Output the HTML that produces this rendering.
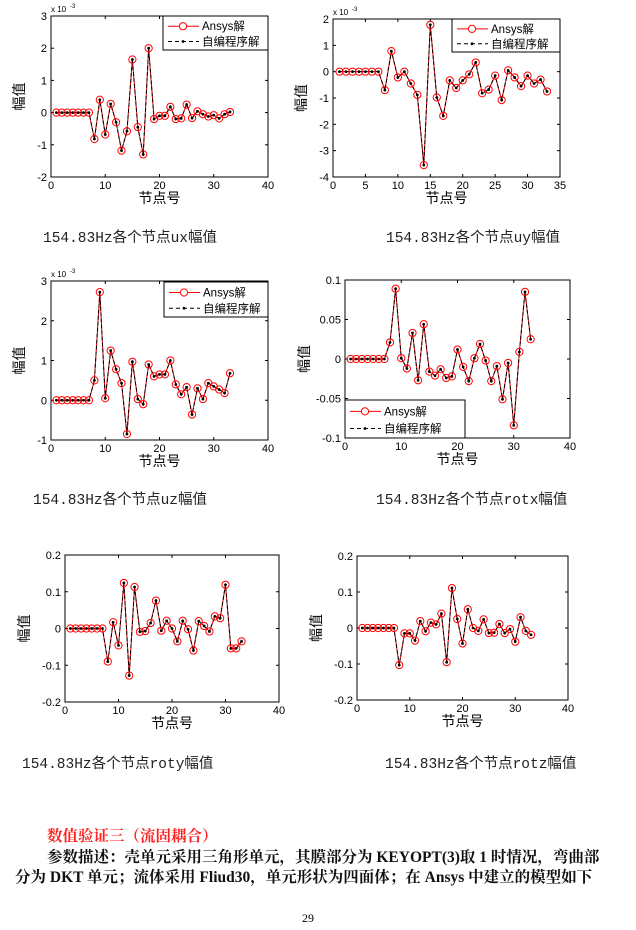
<!DOCTYPE html>
<html><head><meta charset="utf-8">
<style>
body{margin:0;background:#fff;width:636px;height:930px;position:relative;overflow:hidden;font-family:"Liberation Serif","Noto Serif CJK SC",serif}
svg{position:absolute;left:0;top:0}
.cap{position:absolute;font-family:"Liberation Mono","Noto Sans CJK SC",monospace;font-size:14.5px;color:#222;white-space:nowrap}
.t{position:absolute;font-size:15.5px;font-weight:bold;white-space:nowrap;color:#111}
</style></head><body>
<svg id="s" width="636" height="930" xmlns="http://www.w3.org/2000/svg"></svg>
<div class="cap" style="left:43px;top:226px">154.83Hz各个节点ux幅值</div>
<div class="cap" style="left:386px;top:226px">154.83Hz各个节点uy幅值</div>
<div class="cap" style="left:33px;top:488px">154.83Hz各个节点uz幅值</div>
<div class="cap" style="left:376px;top:488px">154.83Hz各个节点rotx幅值</div>
<div class="cap" style="left:22px;top:752px">154.83Hz各个节点roty幅值</div>
<div class="cap" style="left:385px;top:752px">154.83Hz各个节点rotz幅值</div>
<div class="t" style="left:47px;top:824px;color:#f22">数值验证三（流固耦合）</div>
<div class="t" style="left:47px;top:845px">参数描述：壳单元采用三角形单元，其膜部分为 KEYOPT(3)取 1 时情况，弯曲部</div>
<div class="t" style="left:15px;top:865px">分为 DKT 单元；流体采用 Fliud30，单元形状为四面体；在 Ansys 中建立的模型如下</div>
<div style="position:absolute;left:302px;top:911px;font-size:12px;font-family:'Liberation Serif',serif">29</div>
<script>
const Z=[0,0,0,0,0,0,0];
const charts=[
{x0:51,x1:268,y0:16,y1:177,xm:40,xt:[0,10,20,30,40],ymin:-2,ymax:3,yt:[-2,-1,0,1,2,3],exp:1,leg:[163,16,268,50],
d:Z.concat([-0.82,0.4,-0.68,0.27,-0.3,-1.18,-0.58,1.65,-0.45,-1.3,2.0,-0.2,-0.1,-0.1,0.18,-0.2,-0.18,0.25,-0.17,0.04,-0.05,-0.12,-0.08,-0.18,-0.05,0.02])},
{x0:333,x1:560,y0:19,y1:177,xm:35,xt:[0,5,10,15,20,25,30,35],ymin:-4,ymax:2,yt:[-4,-3,-2,-1,0,1,2],exp:1,leg:[452,19,560,52],
d:Z.concat([-0.7,0.78,-0.22,0,-0.45,-0.88,-3.55,1.78,-0.98,-1.68,-0.33,-0.62,-0.33,-0.1,0.35,-0.82,-0.68,-0.15,-1.08,0.05,-0.22,-0.55,-0.15,-0.45,-0.3,-0.75])},
{x0:51,x1:268,y0:281,y1:440,xm:40,xt:[0,10,20,30,40],ymin:-1,ymax:3,yt:[-1,0,1,2,3],exp:1,leg:[164,282,268,317],
d:Z.concat([0.5,2.72,0.05,1.25,0.78,0.43,-0.85,0.97,0.03,-0.1,0.9,0.6,0.65,0.65,1.0,0.4,0.15,0.33,-0.36,0.3,0.03,0.43,0.35,0.27,0.18,0.68])},
{x0:345,x1:570,y0:280,y1:438,xm:40,xt:[0,10,20,30,40],ymin:-0.1,ymax:0.1,yt:[-0.1,-0.05,0,0.05,0.1],leg:[345,400,465,438],
d:Z.concat([0.021,0.089,0.001,-0.012,0.033,-0.027,0.044,-0.016,-0.021,-0.013,-0.024,-0.022,0.012,-0.01,-0.028,0.001,0.019,-0.002,-0.028,-0.009,-0.051,-0.005,-0.084,0.009,0.085,0.025])},
{x0:65,x1:279,y0:555,y1:702,xm:40,xt:[0,10,20,30,40],ymin:-0.2,ymax:0.2,yt:[-0.2,-0.1,0,0.1,0.2],
d:Z.concat([-0.09,0.017,-0.046,0.124,-0.128,0.113,-0.009,-0.007,0.015,0.076,-0.006,0.021,0,-0.035,0.021,-0.002,-0.06,0.02,0.007,-0.008,0.033,0.028,0.119,-0.054,-0.054,-0.035])},
{x0:357,x1:568,y0:556,y1:700,xm:40,xt:[0,10,20,30,40],ymin:-0.2,ymax:0.2,yt:[-0.2,-0.1,0,0.1,0.2],
d:Z.concat([-0.103,-0.015,-0.015,-0.035,0.019,-0.009,0.015,0.01,0.04,-0.095,0.111,0.025,-0.043,0.052,0,-0.008,0.024,-0.014,-0.013,0.011,-0.014,-0.003,-0.038,0.03,-0.008,-0.019])}
];
let h='';
const F='font-family="Liberation Sans,DejaVu Sans,sans-serif"';
const C='font-family="Liberation Sans,Noto Sans CJK SC,sans-serif"';
for(const c of charts){
 const X=v=>c.x0+(c.x1-c.x0)*v/c.xm, Y=v=>c.y1-(c.y1-c.y0)*(v-c.ymin)/(c.ymax-c.ymin);
 h+=`<rect x="${c.x0}" y="${c.y0}" width="${c.x1-c.x0}" height="${c.y1-c.y0}" fill="none" stroke="#000" stroke-width="1"/>`;
 for(const t of c.xt){const x=X(t);h+=`<line x1="${x}" y1="${c.y1}" x2="${x}" y2="${c.y1-3}" stroke="#000"/><line x1="${x}" y1="${c.y0}" x2="${x}" y2="${c.y0+3}" stroke="#000"/><text x="${x}" y="${c.y1+12}" font-size="11" text-anchor="middle" ${F}>${t}</text>`;}
 for(const t of c.yt){const y=Y(t);h+=`<line x1="${c.x0}" y1="${y}" x2="${c.x0+3}" y2="${y}" stroke="#000"/><line x1="${c.x1}" y1="${y}" x2="${c.x1-3}" y2="${y}" stroke="#000"/><text x="${c.x0-4}" y="${y+4}" font-size="11" text-anchor="end" ${F}>${t}</text>`;}
 if(c.exp)h+=`<text x="${c.x0}" y="${c.y0-4}" font-size="8" ${F}>x 10</text><text x="${c.x0+19}" y="${c.y0-8}" font-size="6" ${F}>-3</text>`;
 const cx=(c.x0+c.x1)/2;
 h+=`<text x="${cx}" y="${c.y1+26}" font-size="14" text-anchor="middle" ${C}>节点号</text>`;
 const ly=(c.y0+c.y1)/2, lx=c.x0-(c.yt[0]%1?36:27);
 h+=`<text x="${lx}" y="${ly}" font-size="14" text-anchor="middle" transform="rotate(-90 ${lx} ${ly})" ${C}>幅值</text>`;
 const pts=c.d.map((v,i)=>[X(i+1),Y(v)]);
 const p=pts.map(q=>q.join(',')).join(' ');
 h+=`<polyline points="${p}" fill="none" stroke="#f00" stroke-width="1"/>`;
 h+=`<polyline points="${p}" fill="none" stroke="#000" stroke-width="1" stroke-dasharray="4,2"/>`;
 for(const q of pts)h+=`<circle cx="${q[0]}" cy="${q[1]}" r="3.6" fill="none" stroke="#f00" stroke-width="1"/><circle cx="${q[0]}" cy="${q[1]}" r="1.4" fill="#000"/>`;
 if(c.leg){const [a,b,e,f]=c.leg;h+=`<rect x="${a}" y="${b}" width="${e-a}" height="${f-b}" fill="#fff" stroke="#000"/>`;
  const r1=b+(f-b)*0.3,r2=b+(f-b)*0.75;
  h+=`<line x1="${a+5}" y1="${r1}" x2="${a+36}" y2="${r1}" stroke="#f00"/><circle cx="${a+20}" cy="${r1}" r="3.6" fill="#fff" stroke="#f00"/><text x="${a+39}" y="${r1+4}" font-size="11.5" ${C}>Ansys解</text>`;
  h+=`<line x1="${a+5}" y1="${r2}" x2="${a+36}" y2="${r2}" stroke="#000" stroke-dasharray="4,3"/><circle cx="${a+20}" cy="${r2}" r="1.4"/><text x="${a+39}" y="${r2+4}" font-size="11.5" ${C}>自编程序解</text>`;}
}
document.getElementById('s').innerHTML=h;
</script>
</body></html>
